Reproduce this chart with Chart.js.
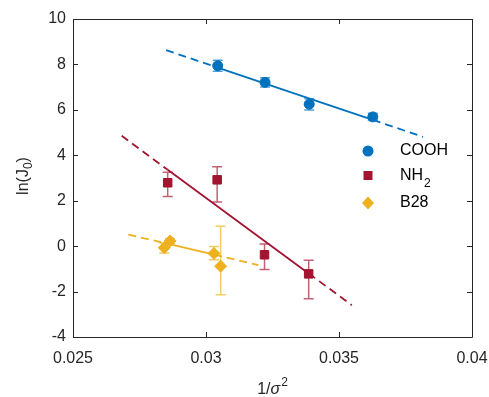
<!DOCTYPE html>
<html>
<head>
<meta charset="utf-8">
<script src="https://cdn.jsdelivr.net/npm/chart.js@4"></script>
<style>
  html, body { margin: 0; padding: 0; background: #fff; }
  #wrap { width: 489px; height: 397px; }
</style>
</head>
<body>
<div id="wrap"><canvas id="chart" width="489" height="397"></canvas></div>
<script>
// tick labels
const xTicks = [0.025, 0.03, 0.035, 0.04];
const yTicks = [-4, -2, 0, 2, 4, 6, 8, 10];

// measured points (x = 1/sigma^2, y = ln(J0))
const coohX = [0.03044, 0.03222, 0.03388, 0.03627];
const coohY = [7.94, 7.21, 6.25, 5.69];
const coohLow = [7.70, 7.01, 5.99, 5.53];
const coohHigh = [8.18, 7.41, 6.49, 5.85];

const nh2X = [0.02856, 0.03042, 0.0322, 0.03386];
const nh2Y = [2.79, 2.92, -0.38, -1.22];
const nh2Low = [2.19, 1.94, -1.03, -2.32];
const nh2High = [3.25, 3.49, 0.09, -0.62];

const b28X = [0.02843, 0.02865, 0.0303, 0.03055];
const b28Y = [-0.07, 0.23, -0.32, -0.88];
const b28Low = [-0.30, 0.12, -0.60, -2.14];
const b28High = [0.14, 0.34, -0.02, 0.88];

// fit lines: dashed start, solid start, solid end, dashed end
const coohFitX = [0.0285, 0.03044, 0.03627, 0.03816];
const coohFitY = [8.63, 7.86, 5.56, 4.81];
const nh2FitX = [0.02683, 0.02856, 0.03386, 0.03548];
const nh2FitY = [4.86, 3.36, -1.20, -2.60];
const b28FitX = [0.02708, 0.02843, 0.0303, 0.03197];
const b28FitY = [0.51, 0.14, -0.37, -0.84];

const blue = '#0072BD';
const red = '#A2142F';
const yellow = '#EDB120';
const axisColor = '#262626';
const fontFam = '"Liberation Sans", Arial, sans-serif';

function pts(xs, ys) {
    return xs.map((x, i) => ({ x: x, y: ys[i] }));
}

function fitSet(xs, ys, color) {
    return {
        data: pts(xs, ys),
        showLine: true,
        borderColor: color,
        borderWidth: 1.8,
        pointRadius: 0,
        order: 2,
        segment: {
            borderDash: ctx => ctx.p0DataIndex === 1 ? [] : [8, 5]
        }
    };
}

function pointSet(label, xs, ys, lo, hi, color, style, radius) {
    return {
        label: label,
        data: pts(xs, ys),
        showLine: false,
        backgroundColor: color,
        borderColor: color,
        borderWidth: 1,
        pointStyle: style,
        pointRadius: radius,
        errLow: lo,
        errHigh: hi,
        errColor: color + 'AA',
        order: 1
    };
}

// error bars drawn under the markers
const errorBars = {
    id: 'errorBars',
    beforeDatasetsDraw(chart) {
        const ctx = chart.ctx;
        const xs = chart.scales.x, ys = chart.scales.y;
        chart.data.datasets.forEach(ds => {
            if (!ds.errLow) return;
            ctx.save();
            ctx.strokeStyle = ds.errColor;
            ctx.lineWidth = 1.5;
            ds.data.forEach((p, i) => {
                const px = xs.getPixelForValue(p.x);
                const y1 = ys.getPixelForValue(ds.errLow[i]);
                const y2 = ys.getPixelForValue(ds.errHigh[i]);
                ctx.beginPath();
                ctx.moveTo(px, y1); ctx.lineTo(px, y2);
                ctx.moveTo(px - 5, y1); ctx.lineTo(px + 5, y1);
                ctx.moveTo(px - 5, y2); ctx.lineTo(px + 5, y2);
                ctx.stroke();
            });
            ctx.restore();
        });
    }
};

// box with inward ticks, matlab style
const boxAxes = {
    id: 'boxAxes',
    afterDraw(chart) {
        const ctx = chart.ctx;
        const a = chart.chartArea;
        const xs = chart.scales.x, ys = chart.scales.y;
        ctx.save();
        ctx.strokeStyle = axisColor;
        ctx.lineWidth = 1;
        ctx.beginPath();
        ctx.rect(Math.round(a.left) + 0.5, Math.round(a.top) + 0.5,
            Math.round(a.right - a.left), Math.round(a.bottom - a.top));
        xTicks.forEach(v => {
            const px = Math.round(xs.getPixelForValue(v)) + 0.5;
            ctx.moveTo(px, a.bottom); ctx.lineTo(px, a.bottom - 5);
            ctx.moveTo(px, a.top); ctx.lineTo(px, a.top + 5);
        });
        yTicks.forEach(v => {
            const py = Math.round(ys.getPixelForValue(v)) + 0.5;
            ctx.moveTo(a.left, py); ctx.lineTo(a.left + 5, py);
            ctx.moveTo(a.right, py); ctx.lineTo(a.right - 5, py);
        });
        ctx.stroke();
        ctx.restore();
    }
};

// axis titles with sub/superscripts
const axisTitles = {
    id: 'axisTitles',
    afterDraw(chart) {
        const ctx = chart.ctx;
        const a = chart.chartArea;
        ctx.save();
        ctx.fillStyle = axisColor;
        ctx.textBaseline = 'alphabetic';

        // x: 1/σ²
        const big = '16px ' + fontFam, ital = 'italic 16px ' + fontFam, small = '12px ' + fontFam;
        ctx.font = big; const w1 = ctx.measureText('1/').width;
        ctx.font = ital; const w2 = ctx.measureText('σ').width;
        ctx.font = small; const w3 = ctx.measureText('2').width;
        let x = (a.left + a.right) / 2 - (w1 + w2 + w3 + 1) / 2;
        const by = 394;
        ctx.font = big; ctx.fillText('1/', x, by); x += w1;
        ctx.font = ital; ctx.fillText('σ', x, by); x += w2 + 1;
        ctx.font = small; ctx.fillText('2', x, by - 8);

        // y: ln(J0)
        ctx.translate(28, (a.top + a.bottom) / 2 - 2);
        ctx.rotate(-Math.PI / 2);
        ctx.font = big; const u1 = ctx.measureText('ln(J').width;
        ctx.font = small; const u2 = ctx.measureText('0').width;
        ctx.font = big; const u3 = ctx.measureText(')').width;
        let t = -(u1 + u2 + u3) / 2;
        ctx.font = big; ctx.fillText('ln(J', t, 0); t += u1;
        ctx.font = small; ctx.fillText('0', t, 4); t += u2;
        ctx.font = big; ctx.fillText(')', t, 0);
        ctx.restore();
    }
};

// legend inside the plot
const innerLegend = {
    id: 'innerLegend',
    afterDraw(chart) {
        const ctx = chart.ctx;
        const items = [
            { text: 'COOH', color: blue, shape: 'circle', y: 151 },
            { text: 'NH', sub: '2', color: red, shape: 'square', y: 175.5 },
            { text: 'B28', color: yellow, shape: 'diamond', y: 203 }
        ];
        ctx.save();
        items.forEach(it => {
            const mx = 368;
            ctx.fillStyle = it.color;
            ctx.beginPath();
            if (it.shape === 'circle') {
                ctx.arc(mx, it.y, 5.5, 0, Math.PI * 2);
            } else if (it.shape === 'square') {
                ctx.rect(mx - 4.5, it.y - 4.5, 9, 9);
            } else {
                ctx.moveTo(mx, it.y - 6.5); ctx.lineTo(mx + 6, it.y);
                ctx.lineTo(mx, it.y + 6.5); ctx.lineTo(mx - 6, it.y);
                ctx.closePath();
            }
            ctx.fill();
            ctx.fillStyle = '#000';
            ctx.textBaseline = 'middle';
            ctx.font = '16px ' + fontFam;
            ctx.fillText(it.text, 400, it.y);
            if (it.sub) {
                const w = ctx.measureText(it.text).width;
                ctx.font = '12px ' + fontFam;
                ctx.fillText(it.sub, 400 + w + 1, it.y + 8);
            }
        });
        ctx.restore();
    }
};

new Chart(document.getElementById('chart'), {
    type: 'scatter',
    data: {
        datasets: [
            pointSet('COOH', coohX, coohY, coohLow, coohHigh, blue, 'circle', 5),
            pointSet('NH2', nh2X, nh2Y, nh2Low, nh2High, red, 'rect', 6),
            pointSet('B28', b28X, b28Y, b28Low, b28High, yellow, 'rectRot', 6),
            fitSet(coohFitX, coohFitY, blue),
            fitSet(nh2FitX, nh2FitY, red),
            fitSet(b28FitX, b28FitY, yellow)
        ]
    },
    options: {
        responsive: false,
        animation: false,
        layout: { padding: { top: 19, right: 17, left: 0, bottom: 0 } },
        plugins: {
            legend: { display: false },
            tooltip: { enabled: false }
        },
        scales: {
            x: {
                type: 'linear',
                min: 0.025,
                max: 0.04,
                afterBuildTicks: s => { s.ticks = xTicks.map(v => ({ value: v })); },
                afterFit: s => { s.height = 60; s.paddingLeft = 0; s.paddingRight = 0; },
                grid: { display: false, drawTicks: false },
                border: { display: false },
                ticks: {
                    padding: 12,
                    color: axisColor,
                    font: { family: fontFam, size: 16 },
                    maxRotation: 0,
                    callback: v => String(v)
                }
            },
            y: {
                type: 'linear',
                min: -4,
                max: 10,
                afterBuildTicks: s => { s.ticks = yTicks.map(v => ({ value: v })); },
                afterFit: s => { s.width = 73; },
                grid: { display: false, drawTicks: false },
                border: { display: false },
                ticks: {
                    padding: 7,
                    color: axisColor,
                    font: { family: fontFam, size: 16 }
                }
            }
        }
    },
    plugins: [errorBars, boxAxes, axisTitles, innerLegend]
});
</script>
</body>
</html>
